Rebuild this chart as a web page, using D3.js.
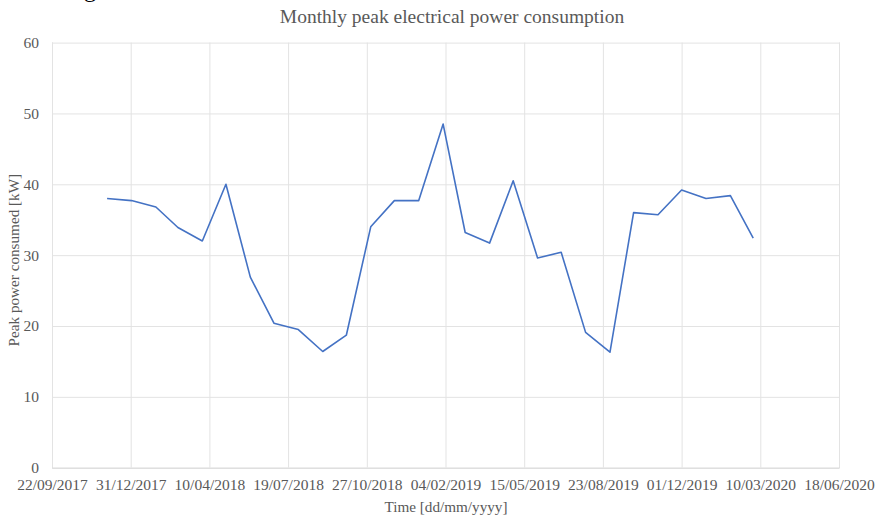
<!DOCTYPE html>
<html>
<head>
<meta charset="utf-8">
<script src="https://cdn.jsdelivr.net/npm/d3@7"></script>
<style>
  html, body { margin: 0; padding: 0; background: #fff; }
  svg { display: block; }
</style>
</head>
<body>
<svg id="chart" width="878" height="516"></svg>
<script>
// ---- data ----
const months = [
  "2017-12-01","2018-01-01","2018-02-01","2018-03-01","2018-04-01","2018-05-01",
  "2018-06-01","2018-07-01","2018-08-01","2018-09-01","2018-10-01","2018-11-01",
  "2018-12-01","2019-01-01","2019-02-01","2019-03-01","2019-04-01","2019-05-01",
  "2019-06-01","2019-07-01","2019-08-01","2019-09-01","2019-10-01","2019-11-01",
  "2019-12-01","2020-01-01","2020-02-01","2020-03-01"
];
const peakKW = [
  38.0, 37.7, 36.8, 33.9, 32.0, 40.0,
  26.9, 20.4, 19.5, 16.4, 18.7, 34.0,
  37.7, 37.7, 48.5, 33.2, 31.7, 40.5,
  29.6, 30.4, 19.1, 16.3, 36.0, 35.7,
  39.2, 38.0, 38.4, 32.4
];
const xTickLabels = ["22/09/2017","31/12/2017","10/04/2018","19/07/2018","27/10/2018",
  "04/02/2019","15/05/2019","23/08/2019","01/12/2019","10/03/2020","18/06/2020"];
const yTicks = [0, 10, 20, 30, 40, 50, 60];
const titleText = "Monthly peak electrical power consumption";
const xTitle = "Time [dd/mm/yyyy]";
const yTitle = "Peak power consumed [kW]";

// ---- layout ----
const svg = d3.select("#chart");
const L = 52, R = 839, T = 42.6, B = 467.7;
const parseISO = d3.utcParse("%Y-%m-%d");
const parseTick = d3.utcParse("%d/%m/%Y");
const tickDates = xTickLabels.map(parseTick);

const x = d3.scaleUtc().domain([tickDates[0], tickDates[tickDates.length - 1]]).range([L, R]);
const y = d3.scaleLinear().domain([0, 60]).range([B, T]);

const font = "'Liberation Serif', 'Times New Roman', serif";
const textColor = "#595959";
const gridColor = "#e3e3e3";

// partially visible heading above the chart (cut off in the reference)
svg.append("text").attr("x", 84).attr("y", -3)
  .attr("font-family", font).attr("font-size", 24).attr("fill", "#000").text("g");

// horizontal gridlines
const yAxis = d3.axisLeft(y).tickValues(yTicks).tickSize(-(R - L)).tickPadding(13).tickFormat(d3.format("d"));
const gy = svg.append("g").attr("transform", `translate(${L},0)`).call(yAxis);
gy.select(".domain").remove();
gy.selectAll(".tick line").attr("stroke", gridColor).attr("stroke-width", 1);
gy.selectAll(".tick text").attr("font-family", font).attr("font-size", 15.5).attr("fill", textColor);

// vertical gridlines
const xAxis = d3.axisBottom(x).tickValues(tickDates).tickSize(-(B - T)).tickPadding(11)
  .tickFormat((d, i) => xTickLabels[i]);
const gx = svg.append("g").attr("transform", `translate(0,${B})`).call(xAxis);
gx.select(".domain").attr("stroke", "#d9d9d9");
gx.selectAll(".tick line").attr("stroke", gridColor).attr("stroke-width", 1);
gx.selectAll(".tick text").attr("font-family", font).attr("font-size", 15.5).attr("fill", textColor);

// line
const pts = months.map((m, i) => ({ d: parseISO(m), v: peakKW[i] }));
const line = d3.line().x(p => x(p.d)).y(p => y(p.v));
svg.append("path").datum(pts).attr("d", line)
  .attr("fill", "none").attr("stroke", "#4472C4").attr("stroke-width", 1.6)
  .attr("stroke-linejoin", "round");

// titles
svg.append("text").attr("x", 452).attr("y", 23).attr("text-anchor", "middle")
  .attr("font-family", font).attr("font-size", 19.5).attr("fill", textColor).text(titleText);
svg.append("text").attr("x", 446).attr("y", 512).attr("text-anchor", "middle")
  .attr("font-family", font).attr("font-size", 15.2).attr("fill", textColor).text(xTitle);
svg.append("text").attr("transform", `translate(19,${(T + B) / 2 + 5}) rotate(-90)`).attr("text-anchor", "middle")
  .attr("font-family", font).attr("font-size", 15.2).attr("fill", textColor).text(yTitle);
</script>
</body>
</html>
